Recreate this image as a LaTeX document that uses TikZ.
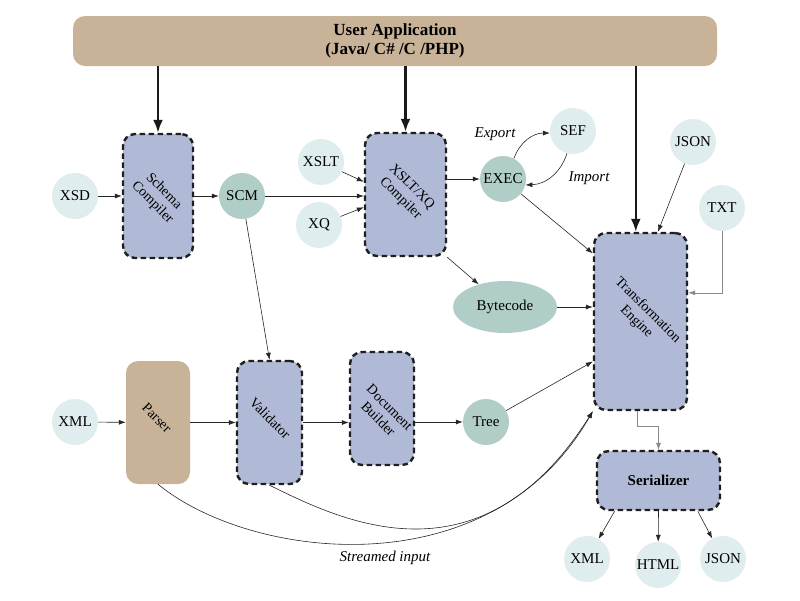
\documentclass[tikz,border=0pt]{standalone}
\usepackage{fontspec}
\setmainfont{Liberation Serif}
\usetikzlibrary{arrows.meta,shapes.geometric}
\definecolor{apptan}{HTML}{C9B398}
\definecolor{boxblue}{HTML}{B0BAD6}
\definecolor{lightcirc}{HTML}{E0EDEF}
\definecolor{darkcirc}{HTML}{B1CDC7}
\definecolor{edgegray}{HTML}{8A8A8A}
\begin{document}
\begin{tikzpicture}[x=1pt,y=-1pt]
\tikzset{
  procbox/.style={draw=black!88, fill=boxblue, line width=2.4pt, dash pattern=on 5.5pt off 3.5pt, rounded corners=12pt, inner sep=0pt},
  lightc/.style={circle, fill=lightcirc, minimum size=46pt, inner sep=0pt, font=\fontsize{15}{17}\selectfont},
  darkc/.style={circle, fill=darkcirc, minimum size=46pt, inner sep=0pt, font=\fontsize{15}{17}\selectfont},
  rtext/.style={rotate=-45, align=center, font=\fontsize{14}{16}\selectfont, inner sep=0pt},
  conn/.style={-{Latex[length=7pt,width=5pt]}, line width=0.6pt, draw=black!85},
  grayconn/.style={conn, draw=edgegray},
  bigarrow/.style={-{Latex[length=13pt,width=10pt]}, line width=2.4pt, draw=black!90},
  lbl/.style={font=\fontsize{15}{17}\selectfont\itshape, inner sep=1pt},
}
\useasboundingbox (0,0) rectangle (800,600);

% top bar
\node[fill=apptan, rounded corners=12pt, minimum width=644pt, minimum height=50pt, align=center,
      font=\fontsize{17}{19}\selectfont\bfseries] (app) at (395,41) {User Application\\(Java/ C\# /C /PHP)};

% boxes
\node[procbox, minimum width=70pt, minimum height=124pt] (schema) at (158,196) {};
\node[rtext] (schemaT) at (158,197) {Schema\\Compiler};
\node[procbox, minimum width=81pt, minimum height=123pt] (xsltc) at (405.5,194.5) {};
\node[rtext] (xsltcT) at (406,193) {XSLT/XQ\\Compiler};
\node[procbox, minimum width=93pt, minimum height=177pt] (te) at (640.5,321.5) {};
\node[rtext] (teT) at (642,316) {Transformation\\Engine};
\node[fill=apptan, rounded corners=12pt, minimum width=64pt, minimum height=123pt, inner sep=0pt] (parser) at (158,422.5) {};
\node[rtext] (parserT) at (157,418) {Parser};
\node[procbox, minimum width=65pt, minimum height=123pt] (valid) at (269.5,422.5) {};
\node[rtext] (validT) at (270,418) {Validator};
\node[procbox, minimum width=64pt, minimum height=113pt] (docb) at (382,408.5) {};
\node[rtext] (docbT) at (384,413) {Document\\Builder};
\node[procbox, minimum width=123pt, minimum height=59pt, font=\fontsize{15}{17}\selectfont\bfseries] (ser) at (658.5,480.5) {Serializer};

% circles
\node[lightc] (xsd) at (75,196) {XSD};
\node[darkc] (scm) at (242,196) {SCM};
\node[lightc] (xslt) at (321,162) {XSLT};
\node[lightc] (xq) at (319,225) {XQ};
\node[darkc] (exec) at (503,179) {EXEC};
\node[lightc] (sef) at (573,131) {SEF};
\node[lightc] (json) at (693,142) {JSON};
\node[lightc] (txt) at (722,208) {TXT};
\node[ellipse, fill=darkcirc, minimum width=104pt, minimum height=52pt, inner sep=0pt, font=\fontsize{15}{17}\selectfont] (byte) at (505,307) {Bytecode};
\node[lightc] (xmlin) at (75,422) {XML};
\node[darkc] (tree) at (486,422) {Tree};
\node[lightc] (xmlo) at (587,559) {XML};
\node[lightc] (htmlo) at (658,565) {HTML};
\node[lightc] (jsono) at (723,559) {JSON};

% labels
\node[lbl] (exportL) at (495,134) {Export};
\node[lbl] (importL) at (589,178) {Import};
\node[lbl] (streamL) at (385,558) {Streamed input};

% thick arrows from application
\draw[bigarrow] (app.south -| schema.north) -- (schema.north);
\draw[bigarrow] (app.south -| xsltc.north) -- (xsltc.north);
\draw[bigarrow] (app.south -| te.93) -- (te.93);

% connectors
\draw[conn] (xsd) -- (schema);
\draw[conn] (schema) -- (scm);
\draw[conn] (scm.east) -- (xsltc.west |- scm.east);
\draw[conn] (xslt) -- (xsltc.163);
\draw[conn] (xq) -- (xsltc.197);
\draw[conn] (xsltc.east |- exec.west) -- (exec.west);
\draw[conn] (exec.62) to[bend left=35] (sef.185);
\draw[conn] (sef.255) to[bend left=35] (exec.-15);
\draw[conn] (exec) -- (te.125);
\draw[conn] (xsltc.south east) -- (byte);
\draw[conn] (byte.east) -- (te.west |- byte.east);
\draw[conn] (json) -- (te.79);
\draw[grayconn] (txt) |- (te.31);
\draw[conn] (scm) -- (valid.north);
\draw[conn] (xmlin) -- (parser);
\draw[conn] (parser) -- (valid);
\draw[conn] (valid.east) -- (docb.west |- valid.east);
\draw[conn] (docb.east |- tree.west) -- (tree.west);
\draw[conn] (tree) -- (te.220);
\draw[conn] (parser.south) .. controls (250,560) and (490,590) .. (te.south west);
\draw[conn] (valid.south) .. controls (340,520) and (480,590) .. (te.south west);
\draw[grayconn] (te.268) -- ++(0,15) -| (ser.north);
\draw[conn] (ser.215) -- (xmlo);
\draw[conn] (ser.south) -- (htmlo);
\draw[conn] (ser.-38) -- (jsono);
\end{tikzpicture}
\end{document}
